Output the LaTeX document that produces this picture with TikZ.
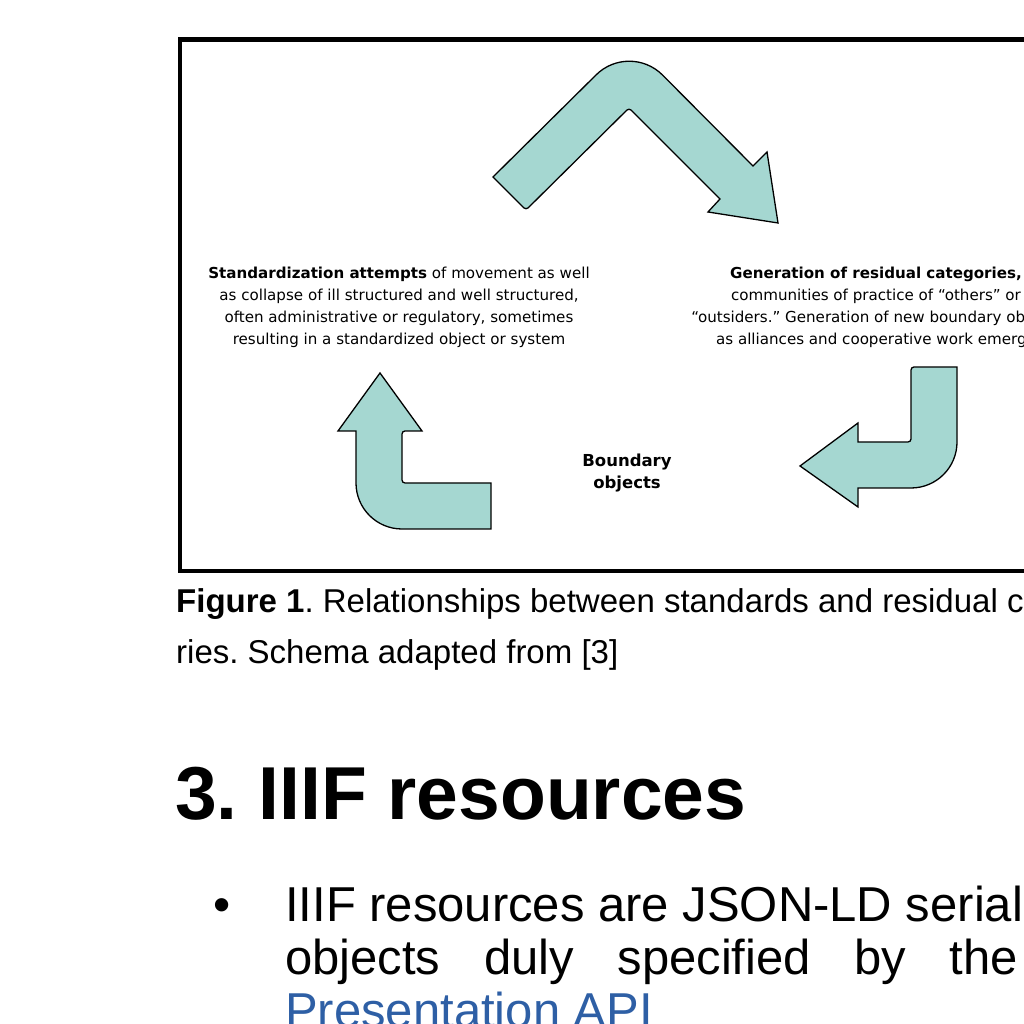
\documentclass[tikz,border=0pt]{standalone}
\usepackage{fontspec}
\setmainfont{Liberation Sans}
\newfontfamily\diagfont{DejaVu Sans}
\definecolor{arrowfill}{RGB}{165,215,209}
\definecolor{linkblue}{RGB}{46,95,165}
\frenchspacing
\begin{document}
\begin{tikzpicture}[x=1pt,y=1pt,
  bentarrow/.style={fill=arrowfill,draw=black,line width=1.3pt,line join=miter},
  diagtext/.style={font=\diagfont\fontsize{15.1}{22}\selectfont,align=center,inner sep=0pt},
  bodytext/.style={inner sep=0pt,anchor=base west},
]
\useasboundingbox (0,0) rectangle (1024,1024);
\clip (0,0) rectangle (1024,1024);

% figure frame
\draw[line width=4.5pt] (180,984.5) rectangle (1110,453);

% cycle of bent arrows
\draw[bentarrow] (493,847) -- (596,949) arc[start angle=135,end angle=45,radius=47]
  -- (753,858) -- (767,872) -- (778,801) -- (708,812) -- (720,825)
  [rounded corners=3pt] -- (629,916) -- (526,814) [sharp corners] -- cycle;
\draw[bentarrow] (380,651) -- (338,593) -- (356,593) -- (356,541)
  arc[start angle=180,end angle=270,radius=46] -- (491,495) -- (491,541)
  [rounded corners=3pt] -- (402,541) -- (402,593) [sharp corners] -- (422,593) -- cycle;
\draw[bentarrow] (957,657) -- (957,582) arc[start angle=0,end angle=-90,radius=46]
  -- (858,536) -- (858,517) -- (800,558) -- (858,601) -- (858,582)
  [rounded corners=3pt] -- (911,582) -- (911,657) [sharp corners] -- cycle;

% labels inside the frame
\node[diagtext] (stdz) at (399,717) {{\bfseries Standardization attempts} of movement as well\\as collapse of ill structured and well structured,\\often administrative or regulatory, sometimes\\resulting in a standardized object or system};
\node[diagtext] (resid) at (876,717) {{\bfseries Generation of residual categories,}\\communities of practice of “others” or\\“outsiders.” Generation of new boundary objects\\as alliances and cooperative work emerge};
\node[diagtext,font=\diagfont\bfseries\fontsize{16.5}{22}\selectfont] (bnd) at (627,551) {Boundary\\objects};

% caption
\node[bodytext,font=\fontsize{33}{50}\selectfont] (cap1) at (176,411) {\textbf{Figure 1}. Relationships between standards and residual catego-};
\node[bodytext,font=\fontsize{33}{50}\selectfont] (cap2) at (176,360) {ries. Schema adapted from [3]};

% section heading
\node[bodytext,font=\bfseries\fontsize{75}{80}\selectfont] (head) at (175,204) {3. IIIF resources};

% bullet item
\node[inner sep=0pt,anchor=base,font=\fontsize{49}{53}\selectfont] (bul) at (222,102) {•};
\node[bodytext,font=\fontsize{49}{53}\selectfont] (body1) at (285,102) {IIIF resources are JSON-LD serialized};
\node[bodytext,font=\fontsize{49}{53}\selectfont] (body2) at (285,49) {\makebox[733pt][s]{objects duly specified by the}};
\node[bodytext,font=\fontsize{49}{53}\selectfont,text=linkblue] (body3) at (285,-4) {Presentation API};
\end{tikzpicture}
\end{document}
